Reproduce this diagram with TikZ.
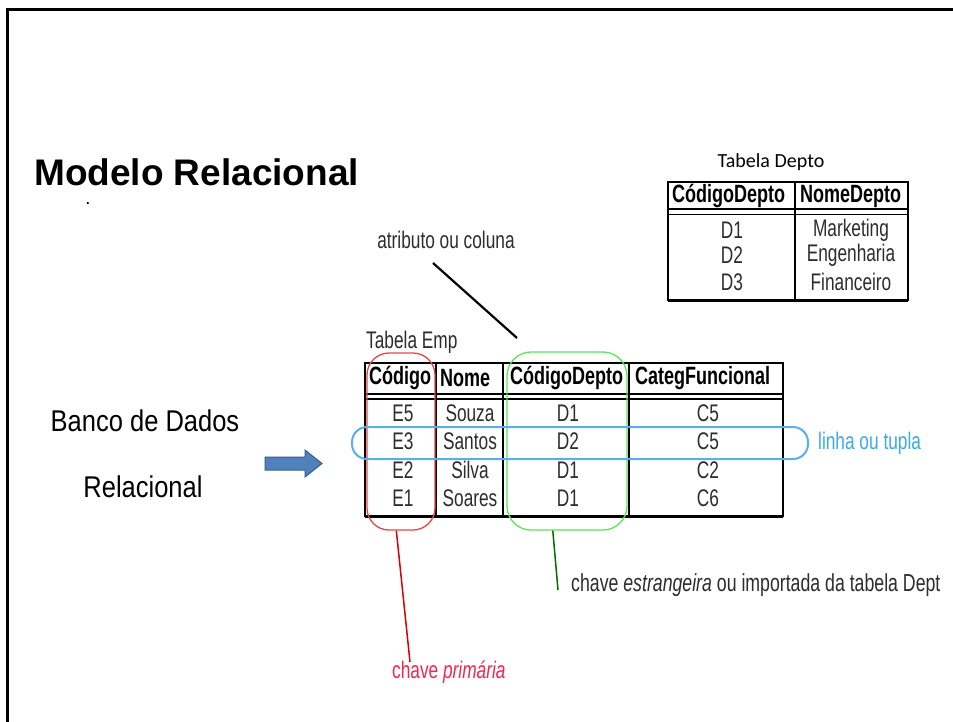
\documentclass[tikz,border=0pt]{standalone}
\usepackage{fontspec}
\setmainfont{Liberation Sans}
\newfontfamily\narrowf[FakeStretch=0.72]{Liberation Sans}
\newfontfamily\midf[FakeStretch=0.85]{Liberation Sans}
\newfontfamily\calib{Carlito}
\definecolor{pkred}{RGB}{232,70,70}
\definecolor{pktext}{RGB}{240,40,80}
\definecolor{pkline}{RGB}{215,0,0}
\definecolor{fkgreen}{RGB}{90,230,90}
\definecolor{fkline}{RGB}{0,110,0}
\definecolor{rowblue}{RGB}{90,175,235}
\definecolor{rowtext}{RGB}{60,170,230}
\definecolor{arrfill}{RGB}{79,129,189}
\definecolor{arrdraw}{RGB}{56,93,138}
\definecolor{bodygray}{RGB}{45,45,45}
\tikzset{
  hdr/.style={anchor=west, inner sep=0pt, font=\narrowf\bfseries\fontsize{25}{25}\selectfont},
  cell/.style={inner sep=0pt, text=bodygray, font=\narrowf\fontsize{24}{24}\selectfont},
  tbl/.style={line width=2pt, draw=black},
  lbl/.style={inner sep=0pt, font=\narrowf\fontsize{24}{24}\selectfont},
  side/.style={inner sep=0pt, font=\midf\fontsize{30}{30}\selectfont},
}
\begin{document}
\begin{tikzpicture}[x=1pt,y=-1pt]
\useasboundingbox (0,0) rectangle (953,722);
\fill[white] (0,0) rectangle (953,722);
% frame
\draw[line width=3pt] (7,722) -- (7,10) -- (953,10);
% title
\node[anchor=base west, inner sep=0pt, font=\bfseries\fontsize{37}{37}\selectfont] (title) at (34,186) {Modelo Relacional};
\node[anchor=base, inner sep=0pt, font=\bfseries\fontsize{13}{13}\selectfont] (dot) at (88,205) {.};
% left labels
\node[side] (bd1) at (145,421) {Banco de Dados};
\node[side] (bd2) at (143,487) {Relacional};
\filldraw[fill=arrfill, draw=arrdraw, line width=1pt] (265,457) -- (305,457) -- (305,450) -- (322,463.5) -- (305,477) -- (305,470) -- (265,470) -- cycle;
% Depto table
\node[inner sep=0pt, font=\calib\fontsize{20}{20}\selectfont] (tdepto) at (771,162) {Tabela Depto};
\draw[tbl] (668,182) rectangle (908,300);
\draw[tbl] (795,182) -- (795,300);
\draw[line width=1.8pt] (668,209) -- (908,209);
\draw[line width=1.8pt] (668,214.5) -- (908,214.5);
\draw[line width=3pt] (668,300) -- (908,300);
\node[hdr] (dh1) at (672,196) {CódigoDepto};
\node[hdr] (dh2) at (800,196) {NomeDepto};
\node[cell] (d11) at (732,230) {D1};
\node[cell] (d21) at (732,255) {D2};
\node[cell] (d31) at (732,282) {D3};
\node[cell] (d12) at (851,230) {Marketing};
\node[cell] (d22) at (851,255) {Engenharia};
\node[cell] (d32) at (851,282) {Financeiro};
% Emp table
\node[lbl, anchor=west, text=bodygray] (temp) at (366,342) {Tabela Emp};
\draw[tbl] (365,363) rectangle (783,516);
\draw[line width=3pt] (365,516) -- (783,516);
\draw[line width=2pt] (365,394) -- (783,394);
\draw[line width=2pt] (365,398.5) -- (783,398.5);
\draw[tbl] (436,363) -- (436,516);
\draw[tbl] (503,363) -- (503,516);
\draw[tbl] (629,363) -- (629,516);
\node[hdr] (eh1) at (369,378) {Código};
\node[hdr] (eh2) at (440,378) {Nome};
\node[hdr] (eh3) at (510,378) {CódigoDepto};
\node[hdr] (eh4) at (635,378) {CategFuncional};
\foreach \y/\c/\n/\d/\k [count=\i] in {413/E5/Souza/D1/C5, 441/E3/Santos/D2/C5, 470/E2/Silva/D1/C2, 498/E1/Soares/D1/C6}{
  \node[cell] (e\i a) at (403,\y) {\c};
  \node[cell] (e\i b) at (470,\y) {\n};
  \node[cell] (e\i c) at (568,\y) {\d};
  \node[cell] (e\i d) at (708,\y) {\k};
}
% highlight boxes
\node[draw=pkred, line width=1.3pt, rounded corners=22pt, minimum width=68pt, minimum height=177pt, inner sep=0pt] (pk) at (401,441.5) {};
\node[draw=fkgreen, line width=1.3pt, rounded corners=24pt, minimum width=120pt, minimum height=178pt, inner sep=0pt] (fk) at (567,441) {};
\node[draw=rowblue, line width=2pt, rounded corners=15pt, minimum width=456pt, minimum height=32pt, inner sep=0pt] (row) at (580,443) {};
% annotations
\node[lbl, text=bodygray] (attr) at (446,240) {atributo ou coluna};
\coordinate (attrA) at (433,263);
\coordinate (attrB) at (517,338);
\draw[line width=2.2pt] (attrA) -- (attrB);
\node[lbl, anchor=west, text=rowtext] (rowlab) at (818,443) {linha ou tupla};
\node[lbl, anchor=west, text=bodygray, font=\narrowf\fontsize{24.6}{24.6}\selectfont] (fklab) at (571,585) {chave \textit{estrangeira} ou importada da tabela Dept};
\coordinate (fkend) at (558,590);
\draw[fkline, line width=1.5pt] (fk.-99.5) -- (fkend);
\node[lbl, anchor=west, text=pktext] (pklab) at (392,672) {chave \textit{primária}};
\coordinate (pkend) at (410,662);
\draw[pkline, line width=1.5pt] (pk.-93) -- (pkend);
\end{tikzpicture}
\end{document}
